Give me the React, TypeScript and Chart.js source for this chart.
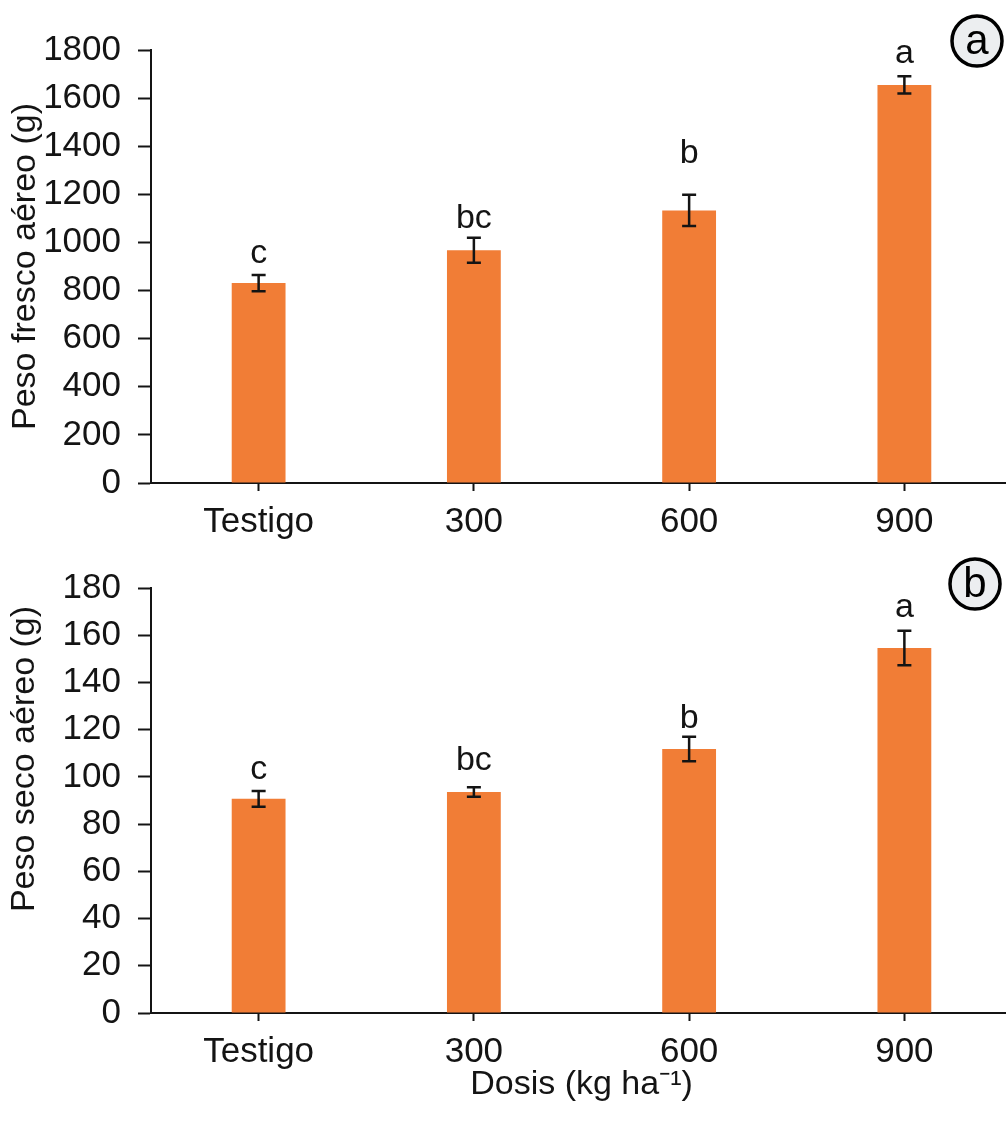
import React, { useEffect, useRef } from "react";
import { Chart, registerables } from "chart.js";

Chart.register(...registerables);

// ---- data ----
const categories = ["Testigo", "300", "600", "900"];

const freshWeight = [831, 968, 1133, 1655];
const freshError = [34, 52, 65, 36];
const freshLetters = ["c", "bc", "b", "a"];
const freshLetterAt = [915, 1059, 1330, 1746];
const freshTickMax = 1800;
const freshTickStep = 200;

const dryWeight = [90.7, 93.6, 111.8, 154.6];
const dryError = [3.3, 2.0, 5.2, 7.3];
const dryLetters = ["c", "bc", "b", "a"];
const dryLetterAt = [99, 103, 120.7, 167.6];
const dryTickMax = 180;
const dryTickStep = 20;

const FONT = "'Liberation Sans', Arial, sans-serif";
const INK = "#141414";
const BAR = "#f17d36";

const annotPlugin = {
  id: "annot",
  afterDatasetsDraw(chart: any, _args: any, opts: any) {
    const ctx = chart.ctx;
    const meta = chart.getDatasetMeta(0);
    const y = chart.scales.y;
    const ds = chart.data.datasets[0].data as number[];
    ctx.save();
    // error bars
    ctx.strokeStyle = INK;
    ctx.lineWidth = 2.5;
    meta.data.forEach((bar: any, i: number) => {
      const v = ds[i];
      const e = opts.errors[i];
      const yt = y.getPixelForValue(v + e);
      const yb = y.getPixelForValue(v - e);
      const x = bar.x;
      ctx.beginPath();
      ctx.moveTo(x, yt);
      ctx.lineTo(x, yb);
      ctx.moveTo(x - 7, yt);
      ctx.lineTo(x + 7, yt);
      ctx.moveTo(x - 7, yb);
      ctx.lineTo(x + 7, yb);
      ctx.stroke();
    });
    // significance letters
    ctx.fillStyle = INK;
    ctx.font = `34px ${FONT}`;
    ctx.textAlign = "center";
    ctx.textBaseline = "alphabetic";
    meta.data.forEach((bar: any, i: number) => {
      ctx.fillText(opts.letters[i], bar.x, y.getPixelForValue(opts.letterAt[i]));
    });
    // panel badge
    ctx.beginPath();
    ctx.arc(opts.badgeX, opts.badgeY, 25, 0, Math.PI * 2);
    ctx.fillStyle = "#eceef0";
    ctx.fill();
    ctx.lineWidth = 3.5;
    ctx.strokeStyle = "#000";
    ctx.stroke();
    ctx.fillStyle = "#000";
    ctx.font = `42px 'Liberation Sans Narrow', ${FONT}`;
    ctx.textBaseline = "middle";
    ctx.fillText(opts.badge, opts.badgeX, opts.badgeY + 1);
    // custom y title (if given)
    if (opts.yTitle) {
      ctx.save();
      ctx.translate(opts.yTitleX, opts.yTitleY);
      ctx.rotate(-Math.PI / 2);
      ctx.font = `34px ${FONT}`;
      ctx.fillStyle = INK;
      ctx.textAlign = "center";
      ctx.textBaseline = "middle";
      ctx.fillText(opts.yTitle, 0, 0);
      ctx.restore();
    }
    ctx.restore();
  },
};

function makeConfig(p: {
  values: number[];
  errors: number[];
  letters: string[];
  letterAt: number[];
  max: number;
  step: number;
  padTop: number;
  xHeight: number;
  yTitleText?: string;
  xTitleText?: string;
  badge: string;
  badgeX: number;
  badgeY: number;
  customYTitle?: string;
  customYTitleX?: number;
  customYTitleY?: number;
}): any {
  return {
    type: "bar",
    data: {
      labels: categories,
      datasets: [
        {
          data: p.values,
          backgroundColor: BAR,
          borderWidth: 0,
          categoryPercentage: 1,
          barPercentage: 0.25,
        },
      ],
    },
    options: {
      responsive: false,
      animation: false,
      devicePixelRatio: 1,
      layout: { padding: { top: p.padTop, right: 8, bottom: 0, left: 0 } },
      plugins: {
        legend: { display: false },
        tooltip: { enabled: false },
        annot: {
          errors: p.errors,
          letters: p.letters,
          letterAt: p.letterAt,
          badge: p.badge,
          badgeX: p.badgeX,
          badgeY: p.badgeY,
          yTitle: p.customYTitle,
          yTitleX: p.customYTitleX,
          yTitleY: p.customYTitleY,
        },
      },
      scales: {
        x: {
          offset: true,
          grid: {
            offset: false,
            drawOnChartArea: false,
            tickLength: 8,
            tickWidth: 2,
            tickColor: INK,
          },
          border: { color: INK, width: 2 },
          ticks: { padding: 10, color: INK, font: { family: FONT, size: 35 } },
          title: p.xTitleText
            ? {
                display: true,
                text: p.xTitleText,
                color: INK,
                font: { family: FONT, size: 34 },
                padding: { top: 0, bottom: 18 },
              }
            : { display: false },
          afterFit: (s: any) => {
            s.height = p.xHeight;
          },
        },
        y: {
          min: 0,
          max: p.max,
          grid: {
            drawOnChartArea: false,
            tickLength: 13,
            tickWidth: 2,
            tickColor: INK,
          },
          border: { color: INK, width: 2 },
          ticks: {
            stepSize: p.step,
            padding: 17,
            color: INK,
            font: { family: FONT, size: 35 },
            callback: (v: any) => String(v),
          },
          title: p.yTitleText
            ? {
                display: true,
                text: p.yTitleText,
                color: INK,
                font: { family: FONT, size: 34 },
                padding: { top: 5, bottom: 0 },
              }
            : { display: false },
          afterFit: (s: any) => {
            s.width = 151;
          },
        },
      },
    },
    plugins: [annotPlugin],
  };
}

export default function App() {
  const topRef = useRef<HTMLCanvasElement | null>(null);
  const botRef = useRef<HTMLCanvasElement | null>(null);

  useEffect(() => {
    const top = new Chart(
      topRef.current as HTMLCanvasElement,
      makeConfig({
        values: freshWeight,
        errors: freshError,
        letters: freshLetters,
        letterAt: freshLetterAt,
        max: freshTickMax,
        step: freshTickStep,
        padTop: 50,
        xHeight: 67,
        yTitleText: "Peso fresco aéreo (g)",
        badge: "a",
        badgeX: 977,
        badgeY: 41,
      })
    );
    const bot = new Chart(
      botRef.current as HTMLCanvasElement,
      makeConfig({
        values: dryWeight,
        errors: dryError,
        letters: dryLetters,
        letterAt: dryLetterAt,
        max: dryTickMax,
        step: dryTickStep,
        padTop: 33,
        xHeight: 110,
        xTitleText: "Dosis (kg ha\u207B\u00B9)",
        badge: "b",
        badgeX: 975,
        badgeY: 34,
        customYTitle: "Peso seco aéreo (g)",
        customYTitleX: 25,
        customYTitleY: 209,
      })
    );
    return () => {
      top.destroy();
      bot.destroy();
    };
  }, []);

  return (
    <div
      style={{
        position: "absolute",
        left: 0,
        top: 0,
        width: 1006,
        height: 1123,
        overflow: "hidden",
        background: "#fff",
      }}
    >
      <canvas
        ref={topRef}
        width={1020}
        height={550}
        style={{ position: "absolute", left: 0, top: 0, width: 1020, height: 550 }}
      />
      <canvas
        ref={botRef}
        width={1020}
        height={573}
        style={{ position: "absolute", left: 0, top: 550, width: 1020, height: 573 }}
      />
    </div>
  );
}
